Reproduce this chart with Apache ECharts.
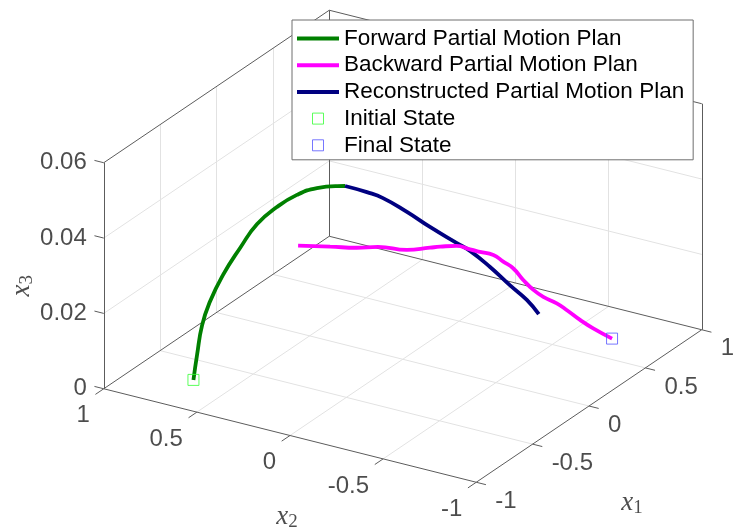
<!DOCTYPE html>
<html>
<head>
<meta charset="utf-8">
<script src="https://cdn.jsdelivr.net/npm/echarts@6/dist/echarts.min.js"></script>
<style>
  html, body { margin: 0; padding: 0; background: #fff; }
  #chart { width: 733px; height: 532px; }
</style>
</head>
<body>
<div id="chart"></div>
<script>
// ===== data (x1, x2, x3) =====
const forwardX1 = [-0.700, -0.688, -0.671, -0.645, -0.601, -0.544, -0.487, -0.421, -0.354, -0.287, -0.220, -0.193]
const forwardX2 = [0.700, 0.688, 0.671, 0.645, 0.601, 0.544, 0.487, 0.421, 0.354, 0.287, 0.220, 0.193]
const forwardX3 = [0.0000, 0.0065, 0.0143, 0.0203, 0.0271, 0.0338, 0.0397, 0.0437, 0.0464, 0.0477, 0.0477, 0.0475]

const reconX1 = [-0.193, -0.120, -0.066, 0.014, 0.091, 0.181, 0.225, 0.292, 0.359, 0.415, 0.455]
const reconX2 = [0.193, 0.120, 0.066, -0.014, -0.091, -0.181, -0.225, -0.292, -0.359, -0.415, -0.455]
const reconX3 = [0.0475, 0.0453, 0.0433, 0.0390, 0.0344, 0.0294, 0.0270, 0.0222, 0.0168, 0.0125, 0.0084]

const backwardX1 = [0.700, 0.637, 0.593, 0.548, 0.515, 0.470, 0.437, 0.403, 0.370, 0.336, 0.303, 0.258, 0.225, 0.180, 0.125, 0.091, 0.014, -0.083, -0.154, -0.243, -0.350]
const backwardX2 = [-0.700, -0.637, -0.593, -0.548, -0.515, -0.470, -0.437, -0.403, -0.370, -0.336, -0.303, -0.258, -0.225, -0.180, -0.125, -0.091, -0.014, 0.083, 0.154, 0.243, 0.350]
const backwardX3 = [0.0000, 0.0032, 0.0058, 0.0088, 0.0108, 0.0129, 0.0150, 0.0179, 0.0212, 0.0233, 0.0253, 0.0265, 0.0274, 0.0287, 0.0289, 0.0289, 0.0289, 0.0305, 0.0308, 0.0318, 0.0329]

const initialState = [-0.7, 0.7, 0]
const finalState = [0.7, -0.7, 0]

const x1Ticks = [-1, -0.5, 0, 0.5, 1]
const x2Ticks = [-1, -0.5, 0, 0.5, 1]
const x3Ticks = [0, 0.02, 0.04, 0.06]
const x3TickLabels = ['0', '0.02', '0.04', '0.06']

const NAME_FWD = 'Forward Partial Motion Plan'
const NAME_BWD = 'Backward Partial Motion Plan'
const NAME_REC = 'Reconstructed Partial Motion Plan'
const NAME_INIT = 'Initial State'
const NAME_FINAL = 'Final State'

// ===== view: orthographic projection of the 3D box onto the page =====
const ORIGIN = [402.75, 359.25]   // (0, 0, 0)
const U1 = [112.75, -76.25]       // one unit of x1
const U2 = [-186.25, -46.75]      // one unit of x2
const UZ = [0, -3767]             // one unit of x3
function proj(a, b, c) {
  return [
    ORIGIN[0] + a * U1[0] + b * U2[0] + c * UZ[0],
    ORIGIN[1] + a * U1[1] + b * U2[1] + c * UZ[1],
  ]
}
function path(xs, ys, zs) {
  return xs.map((v, i) => proj(v, ys[i], zs[i]))
}

const X1MIN = -1, X1MAX = 1, X2MIN = -1, X2MAX = 1, ZMIN = 0, ZMAX = 0.06

// grid lines on the two back walls and the floor
const gridSegs = []
for (const v of x1Ticks.slice(1, -1)) {
  gridSegs.push([proj(v, X2MAX, ZMIN), proj(v, X2MAX, ZMAX)])
  gridSegs.push([proj(v, X2MIN, ZMIN), proj(v, X2MAX, ZMIN)])
}
for (const v of x2Ticks.slice(1, -1)) {
  gridSegs.push([proj(X1MAX, v, ZMIN), proj(X1MAX, v, ZMAX)])
  gridSegs.push([proj(X1MIN, v, ZMIN), proj(X1MAX, v, ZMIN)])
}
for (const v of x3Ticks.slice(1, -1)) {
  gridSegs.push([proj(X1MIN, X2MAX, v), proj(X1MAX, X2MAX, v)])
  gridSegs.push([proj(X1MAX, X2MIN, v), proj(X1MAX, X2MAX, v)])
}

// box edges + tick marks
const boxSegs = [
  [proj(X1MIN, X2MAX, ZMIN), proj(X1MIN, X2MIN, ZMIN)],
  [proj(X1MIN, X2MIN, ZMIN), proj(X1MAX, X2MIN, ZMIN)],
  [proj(X1MIN, X2MAX, ZMIN), proj(X1MAX, X2MAX, ZMIN)],
  [proj(X1MAX, X2MAX, ZMIN), proj(X1MAX, X2MIN, ZMIN)],
  [proj(X1MIN, X2MAX, ZMIN), proj(X1MIN, X2MAX, ZMAX)],
  [proj(X1MAX, X2MAX, ZMIN), proj(X1MAX, X2MAX, ZMAX)],
  [proj(X1MAX, X2MIN, ZMIN), proj(X1MAX, X2MIN, ZMAX)],
  [proj(X1MIN, X2MAX, ZMAX), proj(X1MAX, X2MAX, ZMAX)],
  [proj(X1MAX, X2MAX, ZMAX), proj(X1MAX, X2MIN, ZMAX)],
]
for (const v of x1Ticks) boxSegs.push([proj(v, X2MIN, ZMIN), proj(v, X2MIN - 0.052, ZMIN)])
for (const v of x2Ticks) boxSegs.push([proj(X1MIN, v, ZMIN), proj(X1MIN - 0.074, v, ZMIN)])
for (const v of x3Ticks) boxSegs.push([proj(X1MIN, X2MAX, v), proj(X1MIN, X2MAX + 0.05, v)])

const FONT = "'Liberation Sans', Arial, Helvetica, sans-serif"
const SERIF = "'Liberation Serif', 'Times New Roman', serif"
const INK = '#1f1f1f'

function tickLabelSeries(points, texts, align, offset) {
  return {
    type: 'scatter', silent: true, symbolSize: 1, z: 3,
    itemStyle: { color: 'rgba(0,0,0,0)' },
    label: {
      show: true, position: 'inside', align, verticalAlign: 'middle', offset,
      color: INK, fontFamily: FONT, fontSize: 24,
      formatter: (p) => texts[p.dataIndex],
    },
    data: points,
  }
}

// offset is given in the label's own (rotated) frame
function axisTitle(point, sub, offset, rotate) {
  return {
    type: 'scatter', silent: true, symbolSize: 1, z: 3,
    itemStyle: { color: 'rgba(0,0,0,0)' },
    label: {
      show: true, position: 'inside', offset, rotate: rotate || 0,
      formatter: '{v|x}{s|' + sub + '}',
      rich: {
        v: { fontFamily: SERIF, fontStyle: 'italic', fontSize: 27, color: INK, lineHeight: 30, verticalAlign: 'middle' },
        s: { fontFamily: SERIF, fontSize: 19, color: INK, lineHeight: 30, verticalAlign: 'bottom' },
      },
    },
    data: [point],
  }
}

const LINE_ICON = 'path://M0,0H42V4H0Z'
const SQUARE_ICON = 'path://M0,0H10V10H0Z'

const chart = echarts.init(document.getElementById('chart'))
chart.setOption({
  animation: false,
  grid: { left: 0, right: 0, top: 0, bottom: 0 },
  xAxis: { type: 'value', min: 0, max: 733, show: false },
  yAxis: { type: 'value', min: 0, max: 532, inverse: true, show: false },
  legend: {
    orient: 'vertical', left: 292, top: 20,
    padding: [7, 9, 3, 5],
    itemWidth: 42, itemHeight: 11, itemGap: 3.7,
    backgroundColor: '#fff', borderColor: '#6e6e6e', borderWidth: 1,
    selectedMode: false,
    textStyle: { fontFamily: FONT, fontSize: 22.5, color: '#000', lineHeight: 22 },
    data: [
      { name: NAME_FWD, icon: LINE_ICON, itemStyle: { color: '#008000', borderWidth: 0 } },
      { name: NAME_BWD, icon: LINE_ICON, itemStyle: { color: '#ff00ff', borderWidth: 0 } },
      { name: NAME_REC, icon: LINE_ICON, itemStyle: { color: '#000080', borderWidth: 0 } },
      { name: NAME_INIT, icon: SQUARE_ICON, itemStyle: { color: 'rgba(0,0,0,0)', borderColor: '#33ff33', borderWidth: 1 } },
      { name: NAME_FINAL, icon: SQUARE_ICON, itemStyle: { color: 'rgba(0,0,0,0)', borderColor: '#5555ff', borderWidth: 1 } },
    ],
  },
  series: [
    {
      type: 'lines', coordinateSystem: 'cartesian2d', silent: true, z: 1,
      lineStyle: { color: '#e2e2e2', width: 1, opacity: 1 },
      data: gridSegs.map((c) => ({ coords: c })),
    },
    {
      type: 'lines', coordinateSystem: 'cartesian2d', silent: true, z: 1,
      lineStyle: { color: '#5c5c5c', width: 1, opacity: 1 },
      data: boxSegs.map((c) => ({ coords: c })),
    },
    tickLabelSeries(x3Ticks.map((v) => proj(X1MIN, X2MAX, v)), x3TickLabels, 'right', [-17, 0]),
    tickLabelSeries(x2Ticks.map((v) => proj(X1MIN, v, ZMIN)), x2Ticks.map(String), 'right', [-14, 27]),
    tickLabelSeries(x1Ticks.map((v) => proj(v, X2MIN, ZMIN)), x1Ticks.map(String), 'left', [19, 19]),
    axisTitle(proj(X1MIN, X2MAX, 0.03), '3', [-10, -82], 90),
    axisTitle(proj(X1MIN, 0, ZMIN), '2', [-3, 81]),
    axisTitle(proj(0, X2MIN, ZMIN), '1', [43, 97]),
    {
      name: NAME_FWD, type: 'line', z: 5, smooth: 0.5, showSymbol: false, silent: true,
      lineStyle: { color: '#008000', width: 3.8 }, itemStyle: { color: '#008000' },
      data: path(forwardX1, forwardX2, forwardX3),
    },
    {
      name: NAME_REC, type: 'line', z: 5, smooth: 0.5, showSymbol: false, silent: true,
      lineStyle: { color: '#000080', width: 3.8 }, itemStyle: { color: '#000080' },
      data: path(reconX1, reconX2, reconX3),
    },
    {
      name: NAME_BWD, type: 'line', z: 6, smooth: 0.5, showSymbol: false, silent: true,
      lineStyle: { color: '#ff00ff', width: 3.8 }, itemStyle: { color: '#ff00ff' },
      data: path(backwardX1, backwardX2, backwardX3),
    },
    {
      name: NAME_INIT, type: 'scatter', z: 7, symbol: 'rect', symbolSize: 11, silent: true,
      itemStyle: { color: 'rgba(0,0,0,0)', borderColor: '#33ff33', borderWidth: 1 },
      data: [proj(initialState[0], initialState[1], initialState[2])],
    },
    {
      name: NAME_FINAL, type: 'scatter', z: 7, symbol: 'rect', symbolSize: 11, silent: true,
      itemStyle: { color: 'rgba(0,0,0,0)', borderColor: '#5555ff', borderWidth: 1 },
      data: [proj(finalState[0], finalState[1], finalState[2])],
    },
  ],
})
</script>
</body>
</html>
